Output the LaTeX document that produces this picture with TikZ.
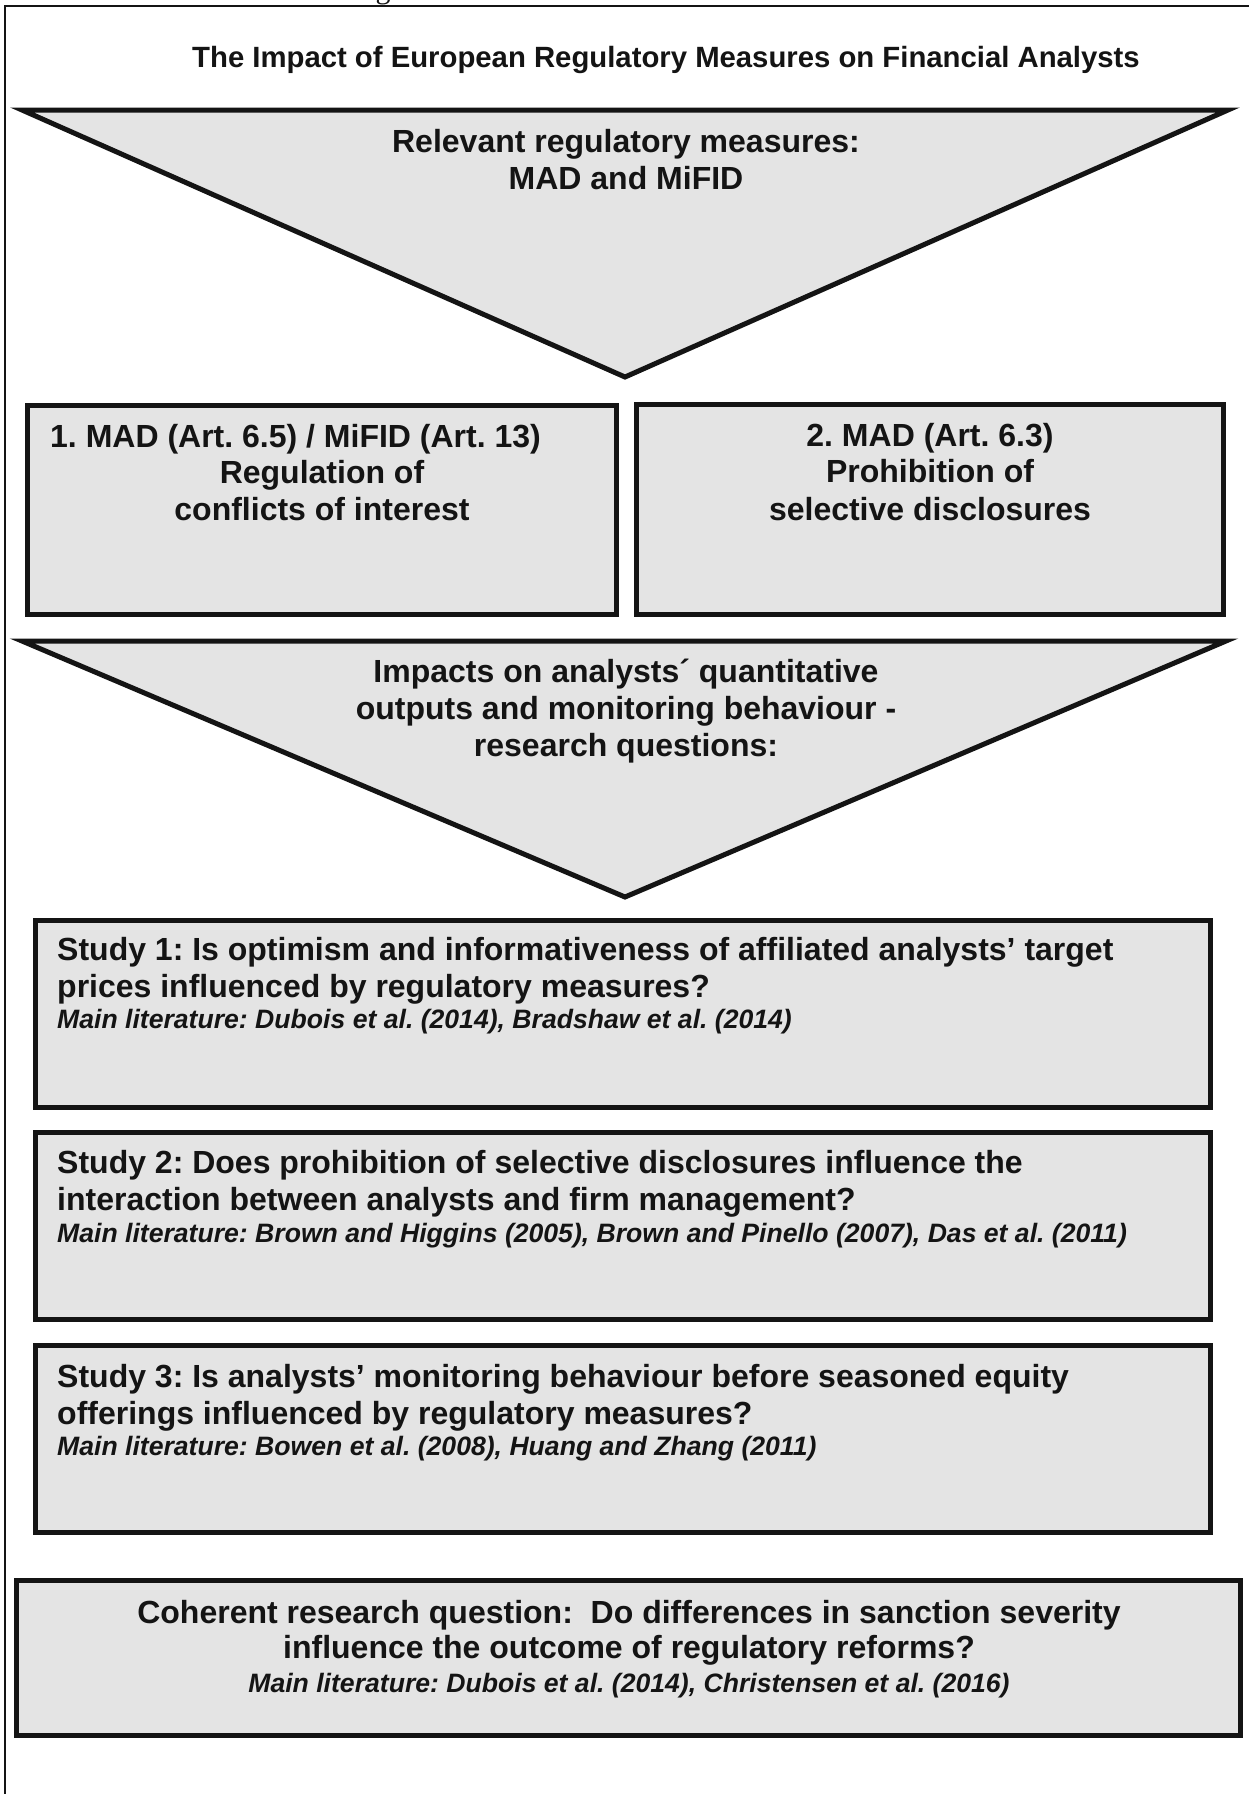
\documentclass[tikz,border=0pt]{standalone}
\usepackage{fontspec}
\setmainfont{Liberation Sans}
\newfontfamily\capfont{Liberation Serif}
\definecolor{boxgray}{HTML}{E4E4E4}
\definecolor{ink}{HTML}{141414}
\frenchspacing
\tikzset{
  panel/.style={draw=ink, fill=boxgray, line width=5pt, inner sep=0pt, line join=miter, rectangle},
  funnel/.style={draw=ink, fill=boxgray, line width=5pt, line join=miter},
  frame/.style={draw=ink, line width=2.5pt},
  big/.style={font=\fontsize{32}{37}\selectfont\bfseries, text=ink, inner sep=0pt},
  lit/.style={font=\fontsize{26.6}{31}\selectfont\bfseries\itshape, text=ink, inner sep=0pt},
  ttl/.style={font=\fontsize{29.3}{35}\selectfont\bfseries, text=ink, inner sep=0pt},
}
\begin{document}
\begin{tikzpicture}[x=1pt,y=-1pt]
\useasboundingbox (0,0) rectangle (1249,1794);
\fill[white] (0,0) rectangle (1249,1794);

% cut-off caption fragment
\begin{scope}
\clip (0,0) rectangle (1249,1794);
\node[font=\capfont\fontsize{30}{36}\selectfont, text=ink, inner sep=0pt, anchor=base] (capfrag) at (383,-2) {g};
\end{scope}

% outer frame (left and top only)
\draw[frame] (5,1794) -- (5,6) -- (1249,6);

% title
\node[ttl, anchor=base] (title) at (666,67) {The Impact of European Regulatory Measures on Financial Analysts};

% funnel 1
\path[funnel] (22,110) -- (1228,110) -- (625,377) -- cycle;
\node[big, anchor=base] (f1a) at (626,152) {Relevant regulatory measures:};
\node[big, anchor=base] (f1b) at (626,189) {MAD and MiFID};

% two measure boxes
\node[panel, minimum width=589pt, minimum height=209pt] (box1) at (322,510) {};
\node[big, anchor=base west] (b1a) at (50,447) {1. MAD (Art. 6.5) / MiFID (Art. 13)};
\node[big, anchor=base] (b1b) at (322,483) {Regulation of};
\node[big, anchor=base] (b1c) at (322,520) {conflicts of interest};

\node[panel, minimum width=587pt, minimum height=210pt] (box2) at (930,509.5) {};
\node[big, anchor=base] (b2a) at (930,446) {2. MAD (Art. 6.3)};
\node[big, anchor=base] (b2b) at (930,482) {Prohibition of};
\node[big, anchor=base] (b2c) at (930,520) {selective disclosures};

% funnel 2
\path[funnel] (22,641) -- (1226,641) -- (625,897) -- cycle;
\node[big, anchor=base] (f2a) at (626,682) {Impacts on analysts´ quantitative};
\node[big, anchor=base] (f2b) at (626,719) {outputs and monitoring behaviour -};
\node[big, anchor=base] (f2c) at (626,756) {research questions:};

% study 1
\node[panel, minimum width=1175pt, minimum height=187.5pt] (s1) at (623,1013.75) {};
\node[big, anchor=base west] (s1a) at (57,960) {Study 1: Is optimism and informativeness of affiliated analysts’ target};
\node[big, anchor=base west] (s1b) at (57,997) {prices influenced by regulatory measures?};
\node[lit, anchor=base west] (s1c) at (57,1028) {Main literature: Dubois et al. (2014), Bradshaw et al. (2014)};

% study 2
\node[panel, minimum width=1175pt, minimum height=187pt] (s2) at (623,1226) {};
\node[big, anchor=base west] (s2a) at (57,1173) {Study 2: Does prohibition of selective disclosures influence the};
\node[big, anchor=base west] (s2b) at (57,1210) {interaction between analysts and firm management?};
\node[lit, anchor=base west] (s2c) at (57,1242) {Main literature: Brown and Higgins (2005), Brown and Pinello (2007), Das et al. (2011)};

% study 3
\node[panel, minimum width=1175pt, minimum height=187pt] (s3) at (623,1439) {};
\node[big, anchor=base west] (s3a) at (57,1387) {Study 3: Is analysts’ monitoring behaviour before seasoned equity};
\node[big, anchor=base west] (s3b) at (57,1424) {offerings influenced by regulatory measures?};
\node[lit, anchor=base west] (s3c) at (57,1455) {Main literature: Bowen et al. (2008), Huang and Zhang (2011)};

% coherent question
\node[panel, minimum width=1224pt, minimum height=155pt] (coh) at (628.5,1658) {};
\node[big, anchor=base] (ca) at (629,1623) {Coherent research question:\ \ Do differences in sanction severity};
\node[big, anchor=base] (cb) at (629,1658) {influence the outcome of regulatory reforms?};
\node[lit, anchor=base] (cc) at (629,1692) {Main literature: Dubois et al. (2014), Christensen et al. (2016)};
\end{tikzpicture}
\end{document}
